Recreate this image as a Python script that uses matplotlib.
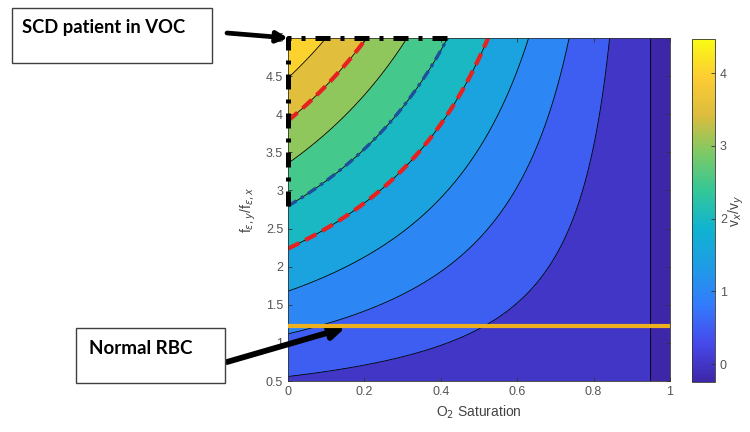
import numpy as np
import matplotlib
matplotlib.use("Agg")
import matplotlib.pyplot as plt
from matplotlib.colors import LinearSegmentedColormap, Normalize
from matplotlib.patches import Rectangle
from matplotlib.cm import ScalarMappable

############################################################################## Data

# field v_x/v_y: linear in f-ratio, reaches 0 at S ~ 0.948
corner_value = 4.47          # v_x/v_y at (S=0, f-ratio=5)
zero_saturation = 0.948      # saturation where the contours collapse to a vertical line
sat_range = [0.0, 1.0]
ratio_range = [0.5, 5.0]
levels = [0, 0.5, 1.0, 1.5, 2.0, 2.5, 3.0, 3.5, 4.0]
red_levels = [2.0, 3.5]
blue_levels = [2.5]
voc_level = 2.5
normal_rbc_ratio = 1.22
normal_arrow_sat = 0.15

x_ticks = [0, 0.2, 0.4, 0.6, 0.8, 1]
y_ticks = [0.5, 1, 1.5, 2, 2.5, 3, 3.5, 4, 4.5, 5]
cbar_ticks = [0, 1, 2, 3, 4]

# old-style parula anchors
parula_anchors = [
    (0.2422, 0.1504, 0.6603), (0.2760, 0.2850, 0.9160), (0.2000, 0.4800, 0.9900),
    (0.1200, 0.6100, 0.9000), (0.0600, 0.7000, 0.8200), (0.2000, 0.7800, 0.6000),
    (0.4800, 0.7900, 0.4000), (0.8600, 0.7400, 0.2400), (0.9900, 0.8000, 0.2000),
    (0.9769, 0.9839, 0.0805)]
parula = LinearSegmentedColormap.from_list("parula", parula_anchors)

############################################################################## Field

sat = np.linspace(sat_range[0], sat_range[1], 601)
ratio = np.linspace(ratio_range[0], ratio_range[1], 601)
S, R = np.meshgrid(sat, ratio)
slope = corner_value / ratio_range[1]
Z = slope * R * (1 - S / zero_saturation)
zmin, zmax = Z.min(), Z.max()

############################################################################## Plot

plt.rcParams['font.family'] = ['Liberation Sans', 'DejaVu Sans']
fig = plt.figure(figsize=(7.5, 4.32), dpi=100)
W, H = 750, 432
ax = fig.add_axes([288 / W, 51 / H, 382 / W, 343 / H])
cax = fig.add_axes([692 / W, 50 / H, 23 / W, 343 / H])

norm = Normalize(zmin, zmax)
bounds = [zmin - 1e-9] + levels + [zmax + 1e-9]
band_colors = [parula(0.0)] + [parula(norm(lv)) for lv in levels]
ax.contourf(S, R, Z, levels=bounds, colors=band_colors)
ax.contour(S, R, Z, levels=levels, colors='k', linewidths=0.6)

# overlay curves
ax.contour(S, R, Z, levels=red_levels, colors='#E8201E', linewidths=3.0,
           linestyles=[(0, (3, 1.6))])
ax.contour(S, R, Z, levels=blue_levels, colors='#1F4E9A', linewidths=2.4,
           linestyles=[(0, (3, 1.5, 1, 1.5))])

# VOC region outline
y_voc = voc_level / slope
x_voc = zero_saturation * (1 - voc_level / (slope * ratio_range[1]))
ax.plot([sat_range[0], sat_range[0], x_voc], [y_voc, ratio_range[1], ratio_range[1]],
        color='k', lw=3.6, linestyle=(0, (3, 2, 0.8, 2)), clip_on=False, zorder=5)

ax.axhline(normal_rbc_ratio, color='#EDB120', lw=3.0, zorder=4)

ax.set_xlim(sat_range)
ax.set_ylim(ratio_range)
ax.set_xticks(x_ticks)
ax.set_xticklabels(['0', '0.2', '0.4', '0.6', '0.8', '1'])
ax.set_yticks(y_ticks)
ax.set_yticklabels(['0.5', '1', '1.5', '2', '2.5', '3', '3.5', '4', '4.5', '5'])
ax.tick_params(direction='in', length=3, width=0.6, top=True, right=True,
               labelsize=9, colors='#333333', labelcolor='#555555')
for sp in ax.spines.values():
    sp.set_linewidth(0.6)
    sp.set_color('#333333')
ax.set_xlabel('O$_2$ Saturation', fontsize=10, color='#444444', labelpad=4)
ax.set_ylabel('f$_{\\epsilon,y}$/f$_{\\epsilon,x}$', fontsize=10, color='#444444', labelpad=6)

cb = fig.colorbar(ScalarMappable(norm=norm, cmap=parula), cax=cax)
cb.set_ticks(cbar_ticks)
cb.ax.tick_params(direction='in', length=3, width=0.6, labelsize=9,
                  colors='#333333', labelcolor='#555555')
cb.outline.set_linewidth(0.6)
cb.outline.set_edgecolor('#333333')
cb.set_label('v$_x$/v$_y$', fontsize=10, color='#444444', labelpad=0)

# annotation boxes
for (x0, y0, w, h) in [(12, 8, 200, 55), (76, 328, 149, 55)]:
    fig.patches.append(Rectangle((x0 / W, 1 - (y0 + h) / H), w / W, h / H,
                                 transform=fig.transFigure, facecolor='white',
                                 edgecolor='#404040', lw=1.0))
fig.text(22 / W, 1 - 28 / H, 'SCD patient in VOC', fontsize=13.2, fontweight='bold',
         family=['Lato', 'DejaVu Sans'], va='center', ha='left')
fig.text(89 / W, 1 - 348 / H, 'Normal RBC', fontsize=13.5, fontweight='bold',
         family=['Lato', 'DejaVu Sans'], va='center', ha='left')

ax.annotate('', xy=(sat_range[0], ratio_range[1]), xycoords='data',
            xytext=(227, H - 33), textcoords='figure pixels',
            arrowprops=dict(arrowstyle='-|>', lw=3.4, color='k', mutation_scale=16,
                            shrinkA=0, shrinkB=0), annotation_clip=False)
ax.annotate('', xy=(normal_arrow_sat, normal_rbc_ratio - 0.02), xycoords='data',
            xytext=(227, H - 362), textcoords='figure pixels',
            arrowprops=dict(arrowstyle='-|>', lw=4.2, color='k', mutation_scale=20,
                            shrinkA=0, shrinkB=0), annotation_clip=False)

fig.savefig('out.png', dpi=100)
